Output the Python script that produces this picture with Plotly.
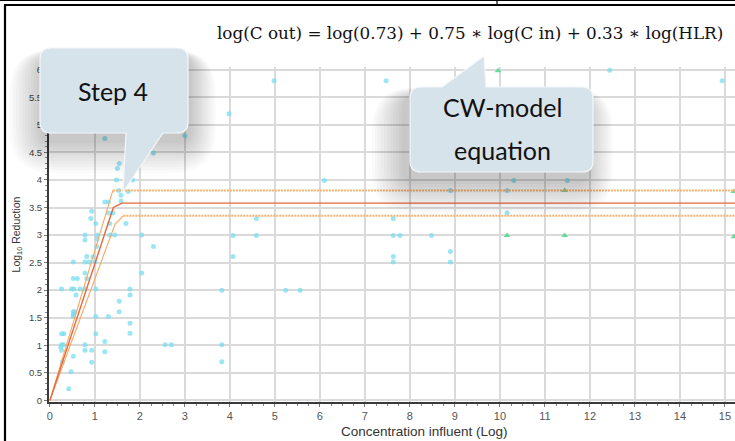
import plotly.graph_objects as go

# ---------------- data ----------------
cyan_x = [2.30, 1.54, 1.50, 1.48, 1.84, 1.53, 1.58, 1.58, 1.74, 1.22, 1.30, 0.93, 1.30, 1.40, 0.91,
          1.33, 1.02, 1.69, 0.78, 1.33, 1.44, 2.04, 1.05, 0.78, 1.05, 1.04, 2.30, 0.82, 0.96, 0.52,
          0.78, 0.87, 1.00, 0.78, 2.04, 0.52, 0.61, 0.82, 0.26, 0.48, 0.53, 0.67, 0.78, 1.02, 1.78,
          0.58, 1.78, 1.54, 0.52, 0.55, 0.52, 1.02, 1.30, 1.54, 1.78, 1.78, 0.26, 0.31, 1.02, 0.26,
          0.30, 0.24, 0.26, 0.78, 0.78, 0.93, 1.22, 1.22, 0.52, 0.93, 0.28, 0.47, 0.42, 2.56, 2.70,
          1.22, 3.00, 4.98, 7.47, 3.98, 6.10, 4.59, 4.07, 4.59, 4.07, 3.82, 5.24, 5.56, 3.82, 3.82,
          7.63, 7.63, 7.78, 7.63, 7.63, 8.48, 8.90, 8.90, 8.90, 10.16, 10.31, 11.50, 12.44, 14.94, 10.16,
          0.53, 0.52]
cyan_y = [4.49, 4.30, 4.21, 4.00, 4.00, 3.81, 3.72, 3.62, 3.79, 3.60, 3.60, 3.43, 3.40, 3.40, 3.30,
          3.21, 3.21, 3.21, 3.00, 3.00, 3.00, 3.00, 3.00, 2.91, 2.93, 2.79, 2.79, 2.61, 2.60, 2.51,
          2.51, 2.51, 2.51, 2.31, 2.31, 2.21, 2.21, 2.21, 2.02, 2.02, 2.02, 2.02, 2.02, 2.02, 2.02,
          1.91, 1.91, 1.80, 1.61, 1.61, 1.52, 1.52, 1.52, 1.61, 1.40, 1.22, 1.21, 1.21, 1.21, 1.01,
          1.01, 0.97, 0.91, 1.01, 0.91, 0.91, 1.07, 0.88, 0.80, 0.69, 0.70, 0.52, 0.21, 1.01, 1.01,
          4.75, 4.80, 5.80, 5.80, 5.20, 3.99, 3.30, 2.99, 2.99, 2.61, 2.00, 2.00, 2.00, 1.01, 0.70,
          3.30, 2.99, 2.99, 2.61, 2.51, 2.99, 3.81, 2.70, 2.51, 3.40, 3.99, 3.99, 5.99, 5.80, 3.81,
          1.57, 1.55]

green_x = [9.96, 11.44, 15.20, 10.16, 11.44, 15.20]
green_y = [5.98, 3.81, 3.79, 2.99, 2.99, 2.97]

model_x = [0, 1.41, 1.60, 15.3]
model_y = [0, 3.50, 3.58, 3.58]
upper_rise_x = [0, 1.40]
upper_rise_y = [0, 3.81]
upper_flat_x = [1.40, 15.3]
upper_flat_y = [3.81, 3.81]
lower_rise_x = [0, 1.45, 1.63]
lower_rise_y = [0, 3.20, 3.35]
lower_flat_x = [1.63, 15.3]
lower_flat_y = [3.35, 3.35]

x_ticks = list(range(0, 16))
y_ticks = [0, 0.5, 1, 1.5, 2, 2.5, 3, 3.5, 4, 4.5, 5, 5.5, 6]
y_tick_text = ["0", "0.5", "1", "1.5", "2", "2.5", "3", "3.5", "4", "4.5", "5", "5.5", "6"]

equation = "log(C out) = log(0.73) + 0.75 \u2217 log(C in) + 0.33 \u2217 log(HLR)"
x_title = "Concentration influent (Log)"
y_title = "Log<sub>10</sub> Reduction"
callout1_text = "Step 4"
callout2_lines = ["CW-model", "equation"]

# ---------------- layout geometry (pixels) ----------------
W, H = 735, 441
L, R, T, B = 49, 735, 67, 402


def px(xp):
    return (xp - L) / (R - L)


def py(yp):
    return (B - yp) / (B - T)


def pt(xp, yp):
    return f"{px(xp):.5f},{py(yp):.5f}"


def rounded_path(x0, y0, x1, y1, r, tail=None):
    # tail: ("bottom"|"top", base_a, base_b, tip_x, tip_y)
    s = f"M{pt(x0 + r, y0)}"
    if tail and tail[0] == "top":
        s += f" L{pt(tail[1], y0)} L{pt(tail[3], tail[4])} L{pt(tail[2], y0)}"
    s += f" L{pt(x1 - r, y0)} Q{pt(x1, y0)} {pt(x1, y0 + r)}"
    s += f" L{pt(x1, y1 - r)} Q{pt(x1, y1)} {pt(x1 - r, y1)}"
    if tail and tail[0] == "bottom":
        s += f" L{pt(tail[2], y1)} L{pt(tail[3], tail[4])} L{pt(tail[1], y1)}"
    s += f" L{pt(x0 + r, y1)} Q{pt(x0, y1)} {pt(x0, y1 - r)}"
    s += f" L{pt(x0, y0 + r)} Q{pt(x0, y0)} {pt(x0 + r, y0)} Z"
    return s


shapes = []


def add_callout(x0, y0, x1, y1, r, tail, dx, dy, up):
    for e in range(32, 0, -3):
        shapes.append(dict(type="path", xref="paper", yref="paper", layer="above",
                           path=rounded_path(x0 - e + dx, y0 - e * up + dy, x1 + e * 0.8 + dx, y1 + e + dy, r + e),
                           fillcolor="rgba(0,0,0,0.02)", line=dict(width=0)))
    shapes.append(dict(type="path", xref="paper", yref="paper", layer="above",
                       path=rounded_path(x0, y0, x1, y1, r, tail),
                       fillcolor="#d7e3eb", line=dict(color="#f4f7f9", width=1.2)))


add_callout(40, 48, 188, 133, 11, ("bottom", 126, 163, 123, 192), 2, 8, 0.2)
add_callout(410, 87, 593, 172, 11, ("top", 442, 486, 484, 56), -6, 10, 0.3)

# outer document frame
frame = dict(color="black", width=2.2)
shapes.append(dict(type="line", xref="paper", yref="paper", layer="above",
                   x0=px(5), y0=py(5), x1=px(5), y1=py(445), line=frame))
shapes.append(dict(type="line", xref="paper", yref="paper", layer="above",
                   x0=px(4), y0=py(5), x1=px(740), y1=py(5), line=frame))
shapes.append(dict(type="line", xref="paper", yref="paper", layer="above",
                   x0=px(0), y0=py(0.5), x1=px(740), y1=py(0.5), line=dict(color="black", width=1.2)))
shapes.append(dict(type="line", xref="paper", yref="paper", layer="above",
                   x0=px(497), y0=py(0), x1=px(497), y1=py(5), line=dict(color="black", width=1.2)))

callout_font = dict(family="Lato, sans-serif", size=25, color="#111")
annotations = [
    dict(text=equation, xref="paper", yref="paper", x=px(470), y=py(33), xanchor="center", yanchor="middle",
         showarrow=False, font=dict(family="DejaVu Serif", size=16.8, color="#111")),
    dict(text=callout1_text, xref="paper", yref="paper", x=px(113), y=py(91), xanchor="center",
         yanchor="middle", showarrow=False, font=callout_font),
    dict(text=callout2_lines[0], xref="paper", yref="paper", x=px(502), y=py(107), xanchor="center",
         yanchor="middle", showarrow=False, font=callout_font),
    dict(text=callout2_lines[1], xref="paper", yref="paper", x=px(502), y=py(150), xanchor="center",
         yanchor="middle", showarrow=False, font=callout_font),
    dict(text=x_title, xref="paper", yref="paper", x=px(425), y=py(431), xanchor="center",
         yanchor="middle", showarrow=False,
         font=dict(family="Liberation Sans, Arial, sans-serif", size=13.5, color="#333")),
]

fig = go.Figure()
fig.add_trace(go.Scatter(x=cyan_x, y=cyan_y, mode="markers",
                         marker=dict(symbol="circle", size=5, color="rgba(120,222,240,0.75)", line=dict(width=0)),
                         showlegend=False))
fig.add_trace(go.Scatter(x=green_x, y=green_y, mode="markers",
                         marker=dict(symbol="triangle-up", size=6, color="rgba(80,215,140,0.85)", line=dict(width=0)),
                         showlegend=False))
dotted = dict(color="#f6b26f", width=2, dash="2px,1px")
fig.add_trace(go.Scatter(x=upper_flat_x, y=upper_flat_y, mode="lines", line=dotted, showlegend=False))
fig.add_trace(go.Scatter(x=lower_flat_x, y=lower_flat_y, mode="lines", line=dotted, showlegend=False))
fig.add_trace(go.Scatter(x=upper_rise_x, y=upper_rise_y, mode="lines",
                         line=dict(color="#f7a760", width=1.1), showlegend=False))
fig.add_trace(go.Scatter(x=lower_rise_x, y=lower_rise_y, mode="lines",
                         line=dict(color="#f7a760", width=1.1), showlegend=False))
fig.add_trace(go.Scatter(x=model_x, y=model_y, mode="lines",
                         line=dict(color="#e8663e", width=1.4), showlegend=False))

fig.update_layout(
    width=W, height=H,
    margin=dict(l=L, r=W - R, t=T, b=H - B),
    paper_bgcolor="white", plot_bgcolor="white",
    shapes=shapes, annotations=annotations,
    xaxis=dict(range=[-0.02, (R - L) / 45 - 0.02], tickvals=x_ticks, showgrid=True,
               gridcolor="#dadada", gridwidth=1.5, zeroline=False,
               showline=True, linecolor="#3a3a3a", linewidth=2,
               ticks="outside", ticklen=3, tickcolor="#777",
               minor=dict(ticks="outside", ticklen=2, dtick=0.25, tickcolor="#888", showgrid=False),
               tickfont=dict(family="Liberation Sans, Arial, sans-serif", size=11, color="#555"),
               automargin=False),
    yaxis=dict(range=[-0.03, (B - T) / 55.1 - 0.03], tickvals=y_ticks, ticktext=y_tick_text, showgrid=True,
               gridcolor="#dadada", gridwidth=1.5, zeroline=False,
               showline=True, linecolor="#3a3a3a", linewidth=2,
               ticks="outside", ticklen=3, tickcolor="#777",
               minor=dict(ticks="outside", ticklen=2, dtick=0.1, tickcolor="#888", showgrid=False),
               tickfont=dict(family="Liberation Sans, sans-serif", size=9.5, color="#444"),
               title=dict(text=y_title, standoff=6,
                          font=dict(family="Liberation Sans, Arial, sans-serif", size=10.5, color="#333")),
               automargin=False),
)

fig.write_html("out.html")
